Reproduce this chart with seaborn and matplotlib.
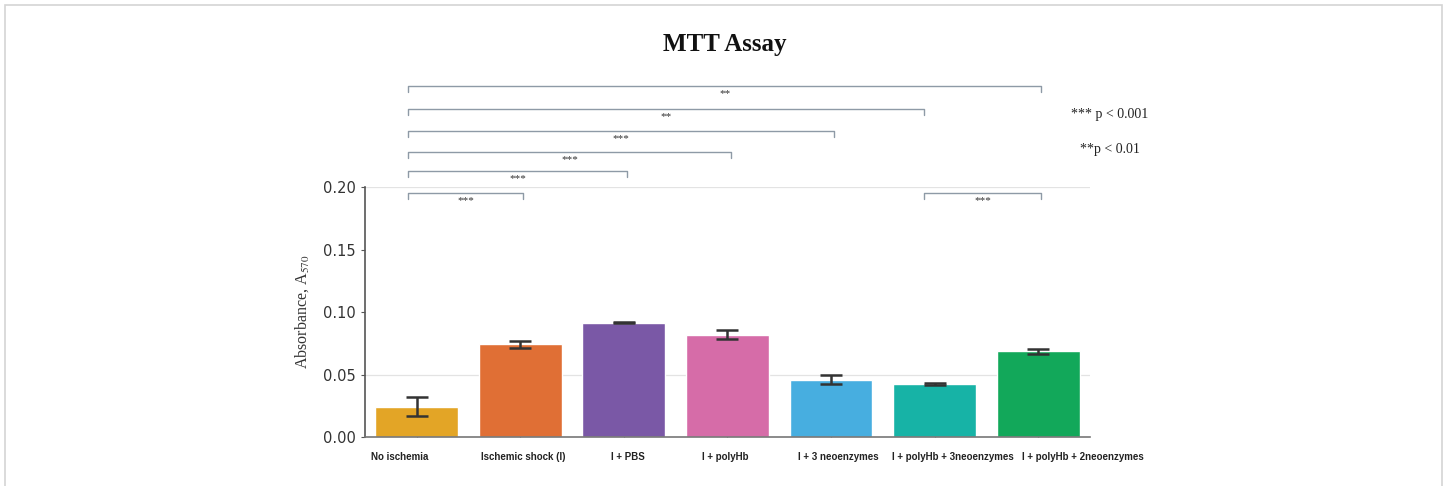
import matplotlib
matplotlib.use("Agg")
import matplotlib.pyplot as plt
from matplotlib.patches import Rectangle
from matplotlib.transforms import ScaledTranslation
import seaborn as sns
import pandas as pd

# MTT assay: mean absorbance at 570 nm with error margins per treatment group
groups = ["No ischemia", "Ischemic shock (I)", "I + PBS", "I + polyHb",
          "I + 3 neoenzymes", "I + polyHb + 3neoenzymes", "I + polyHb + 2neoenzymes"]
absorbance = [0.0243, 0.0742, 0.0915, 0.0820, 0.0460, 0.0422, 0.0686]
error = [0.0077, 0.0030, 0.0006, 0.0038, 0.0036, 0.0008, 0.0018]
colors = ["#E3A526", "#E06F35", "#7A58A6", "#D66CA8", "#47AEE0", "#17B3A6", "#12A85A"]

# Pairwise significance comparisons (group index a, group index b, label)
comparisons = [(0, 1, "***"), (5, 6, "***"), (0, 2, "***"), (0, 3, "***"),
               (0, 4, "***"), (0, 5, "**"), (0, 6, "**")]
legend_lines = ["*** p < 0.001", "**p < 0.01"]

sns.set_theme(style="white")
plt.rcParams["mathtext.fontset"] = "stix"

df = pd.DataFrame({"group": groups, "absorbance": absorbance})

fig = plt.figure(figsize=(14.5, 4.86), dpi=100)
ax = fig.add_axes([0.2517, 0.1008, 0.5, 0.5144])

sns.barplot(data=df, x="group", y="absorbance", hue="group", palette=colors,
            order=groups, hue_order=groups, legend=False, errorbar=None,
            width=0.8, saturation=1, ax=ax)
ax.errorbar(range(len(groups)), absorbance, yerr=error, fmt="none",
            ecolor="#333333", elinewidth=1.8, capsize=8, capthick=1.8, zorder=5)

ax.set_xlim(-0.5, 6.5)
ax.set_ylim(0, 0.20)
ax.set_yticks([0, 0.05, 0.10, 0.15, 0.20])
ax.set_yticklabels(["0.00", "0.05", "0.10", "0.15", "0.20"], fontsize=10.5,
                   color="#333333")
ax.set_xticks(range(len(groups)))
ax.set_xticklabels(groups, fontsize=7, fontweight="bold",
                   family="Liberation Sans", color="#222222")
ax.tick_params(axis="x", direction="in", length=3, width=0.8, pad=11,
               color="#555555", bottom=True)
ax.tick_params(axis="y", direction="out", length=3, width=0.8, left=True,
               color="#555555")

# Category labels sit slightly staggered so the long names do not collide
label_shift_px = [-17, 3, 4, -2, 7, 18, 45]
for lab, dx in zip(ax.get_xticklabels(), label_shift_px):
    lab.set_transform(lab.get_transform() +
                      ScaledTranslation(dx / 100, 0, fig.dpi_scale_trans))

ax.set_xlabel("")
ax.set_ylabel(r"Absorbance, A$_{570}$", family="Liberation Serif",
              fontsize=11.5, labelpad=9, color="#333333")

for gy in (0.05, 0.20):
    ax.axhline(gy, xmin=0, xmax=1.0, color="#e3e3e3", linewidth=0.9, zorder=0)
ax.set_axisbelow(True)
for side in ("top", "right"):
    ax.spines[side].set_visible(False)
ax.spines["left"].set_color("#555555")
ax.spines["left"].set_linewidth(1.2)
ax.spines["bottom"].set_color("#777777")
ax.spines["bottom"].set_linewidth(1.2)

# Significance brackets stacked above the plotting area
levels = [0.1952, 0.1952, 0.2128, 0.2280, 0.2448, 0.2624, 0.2808]
drop = 0.0045
for (a, b, label), y in zip(comparisons, levels):
    x0 = a - 0.08 if a == 0 else a - 0.1
    x1 = b - 0.1 if b == 5 else b + 0.03
    ax.plot([x0, x0, x1, x1], [y - drop, y, y, y - drop],
            color="#8e9aa6", linewidth=1.0, clip_on=False)
    ax.text((x0 + x1) / 2, y - 0.0062, label, ha="center", va="center",
            fontsize=8, family="Liberation Serif", color="#333333",
            clip_on=False)

fig.text(0.7655, 0.7634, legend_lines[0], ha="center", va="center",
         fontsize=10, family="Liberation Serif", color="#222222")
fig.text(0.7655, 0.6914, legend_lines[1], ha="center", va="center",
         fontsize=10, family="Liberation Serif", color="#222222")

fig.text(0.5, 0.908, "MTT Assay", ha="center", va="center",
         fontsize=18, fontweight="bold", family="Liberation Serif",
         color="#111111")

# Light frame around the figure panel
fig.patches.append(Rectangle((5 / 1450, -0.05), 1437 / 1450, 1.05 - 5.5 / 486,
                             transform=fig.transFigure, fill=False,
                             edgecolor="#d4d4d4", linewidth=1.2))

fig.savefig("out.png", dpi=100, facecolor="white")
